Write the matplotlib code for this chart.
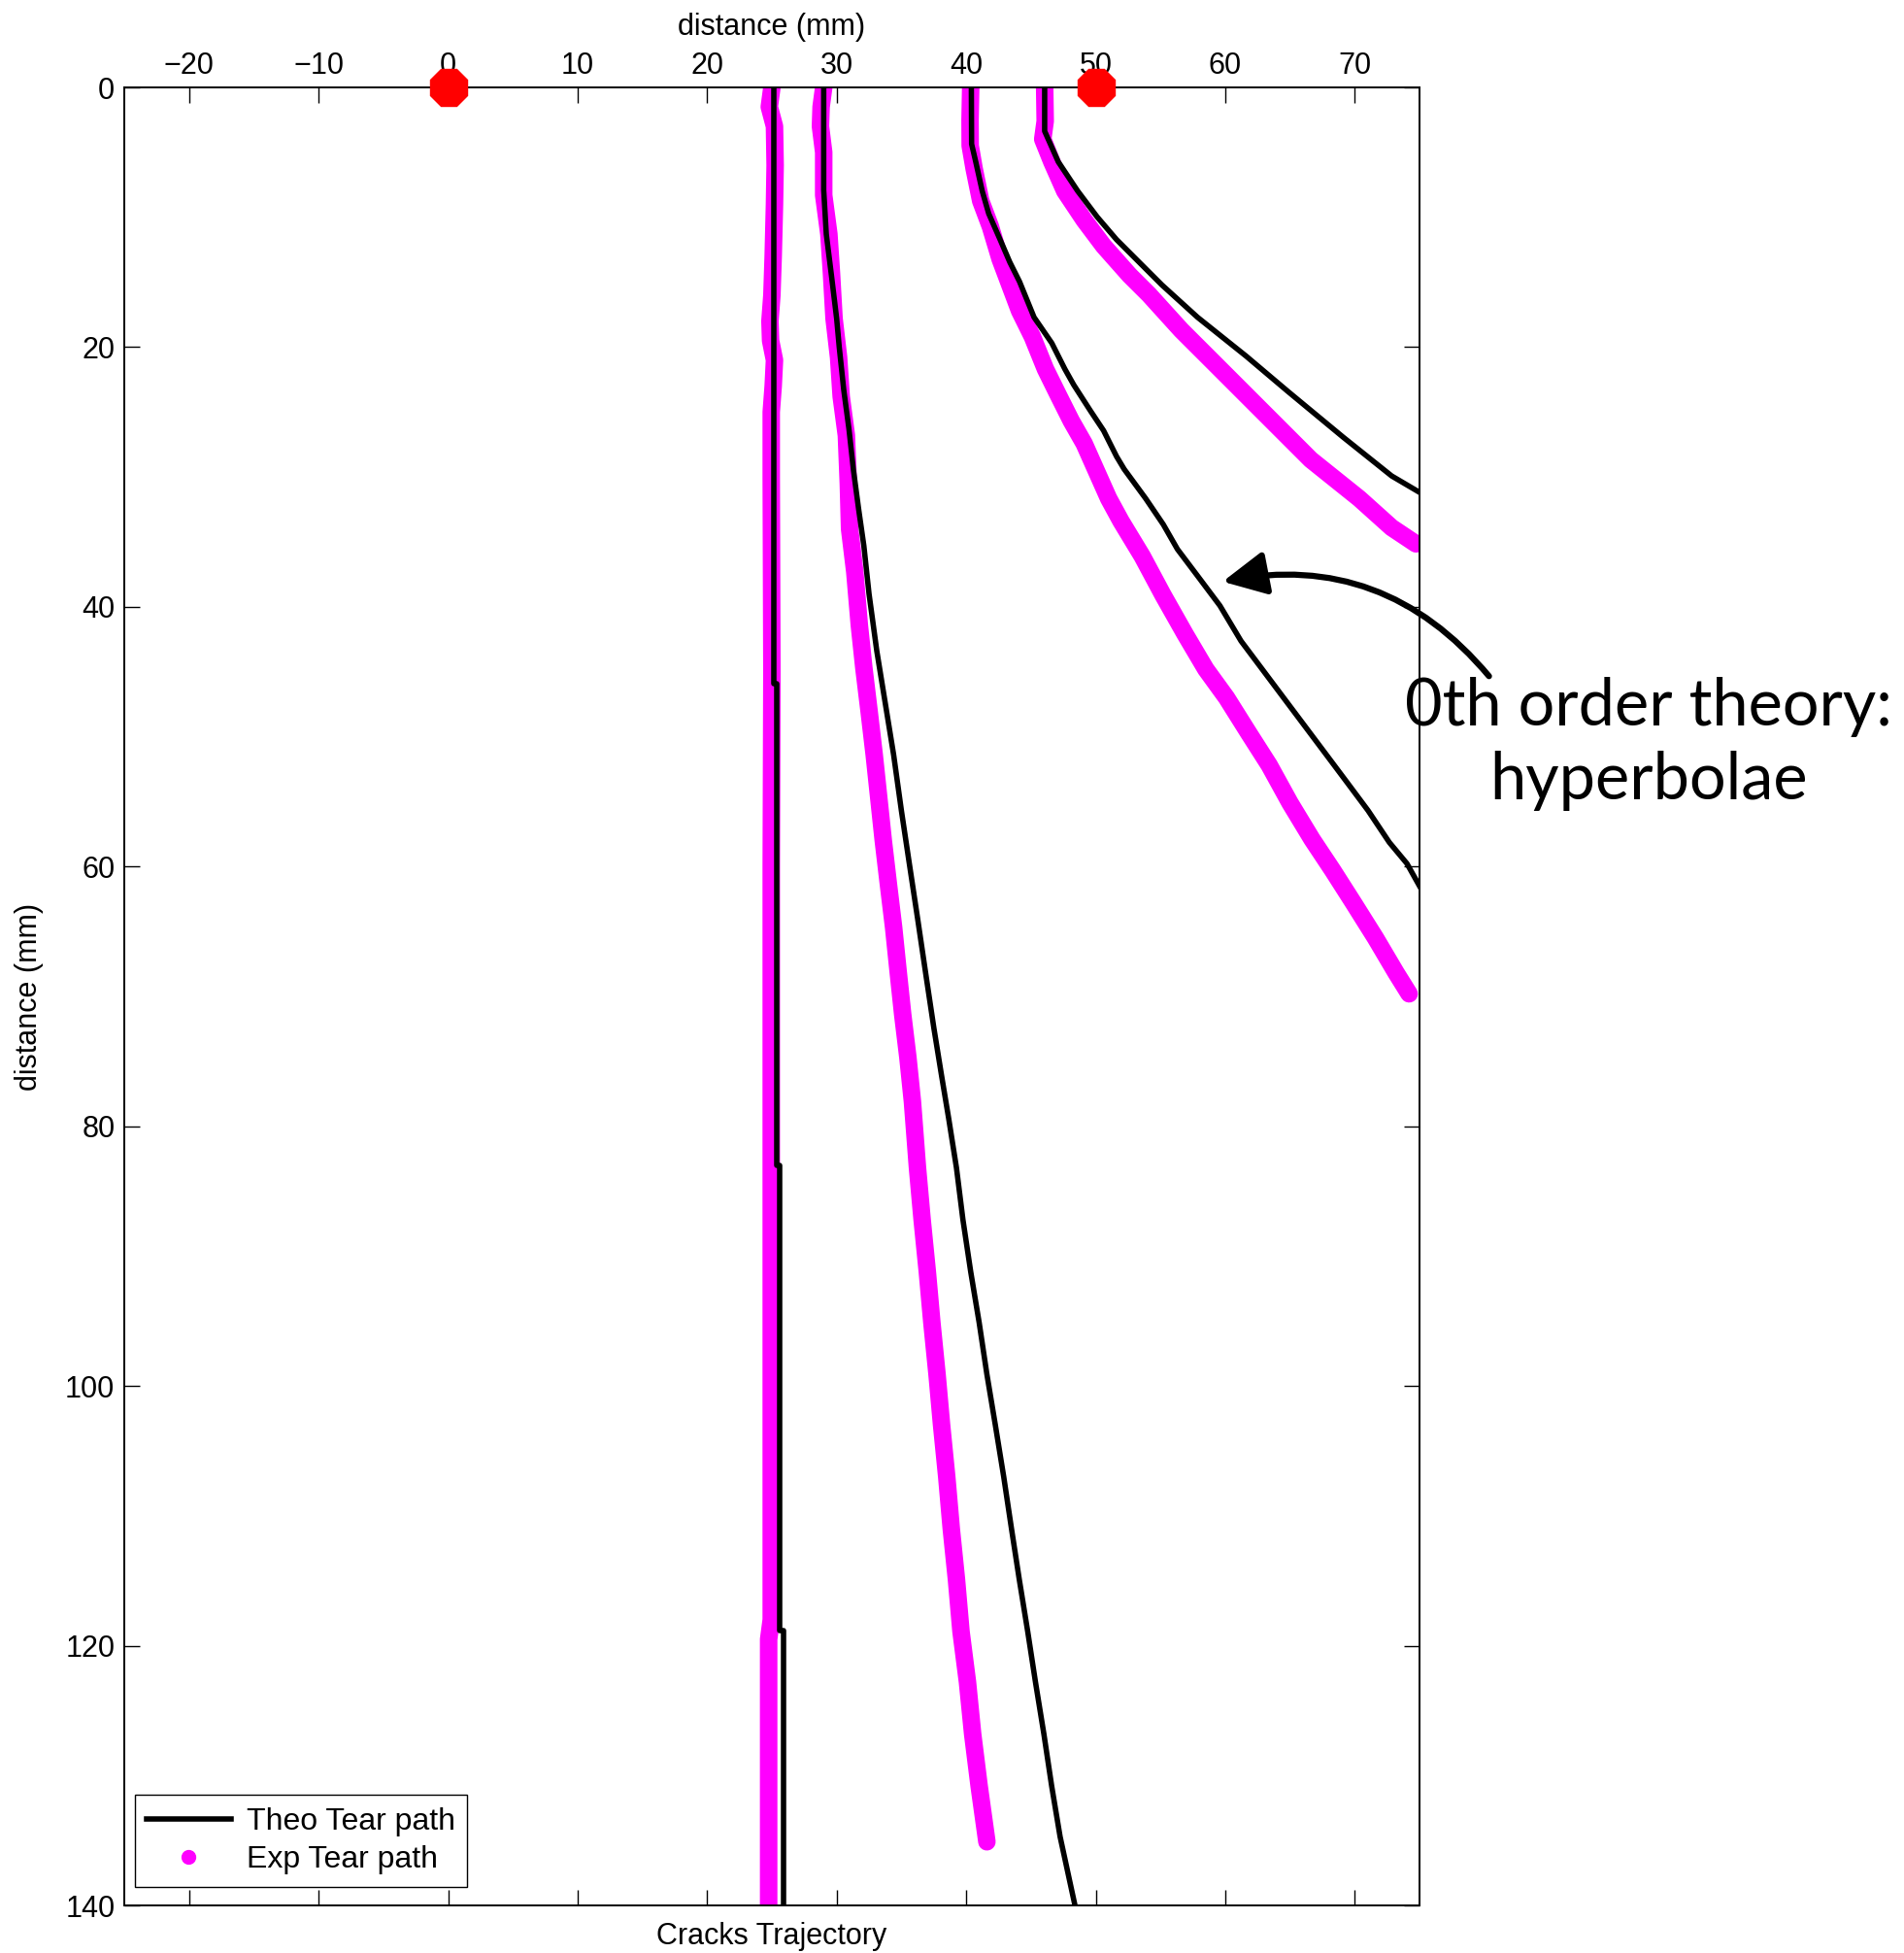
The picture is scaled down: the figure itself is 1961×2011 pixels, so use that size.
import matplotlib
matplotlib.use('Agg')
import matplotlib.pyplot as plt
from matplotlib.lines import Line2D
from matplotlib.patches import FancyArrowPatch

plt.rcParams['font.family'] = ['Liberation Sans', 'DejaVu Sans']

# crack 1 (almost straight)
theo1_x = [25.15, 25.15, 25.35, 25.35, 25.6, 25.6, 25.9, 25.9]
theo1_y = [0, 45.9, 45.9, 83.0, 83.0, 118.8, 118.8, 140]
exp1_x = [25.0, 24.8, 25.2, 25.25, 25.2, 25.1, 25.0, 24.85, 24.9, 25.2, 25.1, 24.95,
          24.95, 25.0, 24.95, 24.95, 24.95, 24.95, 24.75, 24.75, 24.75]
exp1_y = [0, 1.5, 3, 6, 9, 13, 16, 18, 19.5, 21, 23, 25,
          30, 45, 60, 80, 100, 118, 119.5, 130, 140]

# crack 2
theo2_x = [29.0, 29.0, 29.2, 29.6, 30.0, 30.2, 30.55, 30.95, 31.3, 31.7, 32.1, 32.5,
           33.1, 33.75, 34.4, 35.0, 35.6, 36.25, 36.9, 37.5, 38.1, 38.65, 39.25, 39.75,
           40.35, 41.0, 41.6, 42.25, 42.9, 43.5, 44.1, 44.75, 45.35, 46.0, 46.6, 47.25, 48.4]
theo2_y = [0, 7.9, 11.3, 14.5, 17.8, 20.0, 23.3, 26.3, 29.5, 32.5, 35.3, 39.0,
           43.4, 47.4, 51.4, 55.7, 59.7, 64.0, 68.4, 72.4, 76.1, 79.4, 83.2, 87.2,
           91.2, 95.1, 99.1, 103.0, 107.0, 111.0, 114.9, 118.9, 122.8, 126.8, 130.8, 134.7, 140.0]
exp2_x = [29.0, 28.8, 28.75, 29.0, 29.0, 29.4, 29.6, 29.8, 30.15, 30.35, 30.75, 30.9,
          31.0, 31.4, 31.75, 32.1, 32.5, 32.9, 33.25, 33.6, 34.0, 34.4, 34.75, 35.1,
          35.5, 35.85, 36.24, 36.6, 37.0, 37.35, 37.75, 38.1, 38.5, 38.85, 39.25,
          39.6, 40.1, 40.5, 41.0, 41.6]
exp2_y = [0, 1.5, 3.0, 5.0, 8.3, 11.3, 14.3, 17.8, 20.8, 23.8, 26.8, 30.5,
          34.0, 37.3, 41.4, 44.7, 48.0, 51.4, 54.7, 58.0, 61.4, 64.7, 68.1, 71.4,
          74.7, 78.1, 83.2, 87.2, 91.2, 95.1, 99.1, 103.0, 107.0, 111.0, 114.9,
          118.9, 122.8, 126.8, 130.8, 135.1]

# crack 3
theo3_x = [40.4, 40.42, 40.74, 41.24, 41.74, 42.62, 43.37, 44.12, 45.24, 46.61, 47.62,
           48.3, 49.61, 50.61, 51.61, 52.2, 53.86, 55.22, 56.31, 57.95, 59.59, 61.22,
           62.86, 64.49, 66.13, 67.77, 69.40, 71.03, 72.67, 74.03, 75.0]
theo3_y = [0, 4.36, 5.73, 7.98, 9.72, 11.72, 13.46, 14.96, 17.70, 19.69, 21.69,
           22.9, 24.93, 26.43, 28.42, 29.4, 31.66, 33.66, 35.56, 37.73, 39.91, 42.63,
           44.81, 46.98, 49.16, 51.34, 53.51, 55.69, 58.14, 59.77, 61.5]
exp3_x = [40.35, 40.3, 40.31, 40.61, 41.12, 41.87, 42.62, 43.37, 44.12, 45.11, 46.12,
          47.11, 48.11, 49.11, 50.11, 51.0, 51.95, 53.59, 55.2, 56.9, 58.5, 60.1,
          61.8, 63.4, 65.0, 66.7, 68.3, 69.9, 71.6, 73.2, 74.2]
exp3_y = [0, 2.5, 4.49, 6.23, 8.73, 10.72, 13.22, 15.21, 17.20, 19.20, 21.69,
          23.69, 25.68, 27.43, 29.67, 31.66, 33.4, 36.1, 39.1, 42.1, 44.8, 47.0,
          49.7, 52.2, 55.1, 57.9, 60.3, 62.8, 65.5, 68.2, 69.8]

# crack 4
theo4_x = [46.06, 46.06, 47.11, 48.61, 50.11, 51.61, 55.11, 57.86, 61.61, 64.86, 69.10, 72.85, 74.98]
theo4_y = [0, 3.37, 5.73, 7.98, 9.97, 11.72, 15.21, 17.70, 20.69, 23.43, 26.93, 29.92, 31.17]
exp4_x = [46.06, 46.1, 45.91, 46.61, 47.61, 49.11, 50.61, 52.61, 54.11, 56.61, 59.11,
          62.86, 66.61, 70.35, 72.85, 74.73]
exp4_y = [0, 2.6, 3.99, 5.73, 7.98, 10.22, 12.21, 14.46, 15.95, 18.70, 21.19,
          24.93, 28.67, 31.66, 33.90, 35.15]

theo_x = [theo1_x, theo2_x, theo3_x, theo4_x]
theo_y = [theo1_y, theo2_y, theo3_y, theo4_y]
exp_x = [exp1_x, exp2_x, exp3_x, exp4_x]
exp_y = [exp1_y, exp2_y, exp3_y, exp4_y]

# the two red points on the edge
src_x = [0, 50]
src_y = [0, 0]

xticks = list(range(-20, 71, 10))
yticks = list(range(0, 141, 20))

fig = plt.figure(figsize=(19.61, 20.11), dpi=100)
ax = fig.add_axes([128 / 1961, 1 - 1962 / 2011, 1334 / 1961, 1872 / 2011])

for xs, ys in zip(exp_x, exp_y):
    ax.plot(xs, ys, color='#ff00ff', lw=13, solid_capstyle='round', solid_joinstyle='round')
for xs, ys in zip(theo_x, theo_y):
    ax.plot(xs, ys, color='black', lw=4)

ax.plot(src_x, src_y, ls='none', marker='8', ms=29, color='red', clip_on=False, zorder=5)

ax.set_xlim(-25, 75)
ax.set_ylim(140, 0)
ax.set_xticks(xticks)
ax.set_yticks(yticks)
ax.xaxis.tick_top()
ax.xaxis.set_label_position('top')
ax.tick_params(direction='in', length=11.5, width=1, labelsize=22, top=True, bottom=True,
               left=True, right=True)
ax.tick_params(axis='x', pad=5)
ax.tick_params(axis='y', pad=7)
for s in ax.spines.values():
    s.set_linewidth(1.4)

ax.set_xlabel('distance (mm)', fontsize=22, labelpad=12)
ax.set_ylabel('distance (mm)', fontsize=22, labelpad=16)
ax.text(0.5, -0.009, 'Cracks Trajectory', transform=ax.transAxes, ha='center', va='top', fontsize=22)

handles = [Line2D([], [], color='black', lw=4),
           Line2D([], [], ls='none', marker='o', ms=10, color='#ff00ff')]
ax.legend(handles, ['Theo Tear path', 'Exp Tear path'], loc='lower left',
          bbox_to_anchor=(0.0079, 0.0101), borderaxespad=0, fontsize=23,
          handlelength=2.7, handletextpad=0.5, borderpad=0.4, labelspacing=0.3,
          fancybox=False, edgecolor='black', framealpha=1)

arrow = FancyArrowPatch((80.5, 45.5), (59.6, 38.1), connectionstyle='arc3,rad=0.3',
                        arrowstyle='-|>', mutation_scale=68, lw=4.5, color='black',
                        clip_on=False, zorder=6)
ax.add_patch(arrow)

fig.text(0.866, 0.619, '0th order theory:\nhyperbolae', ha='center', va='center',
         fontsize=48, family=['Lato', 'DejaVu Sans'], linespacing=1.27)

fig.savefig('out.png', dpi=100)
print('salvo out.png')
